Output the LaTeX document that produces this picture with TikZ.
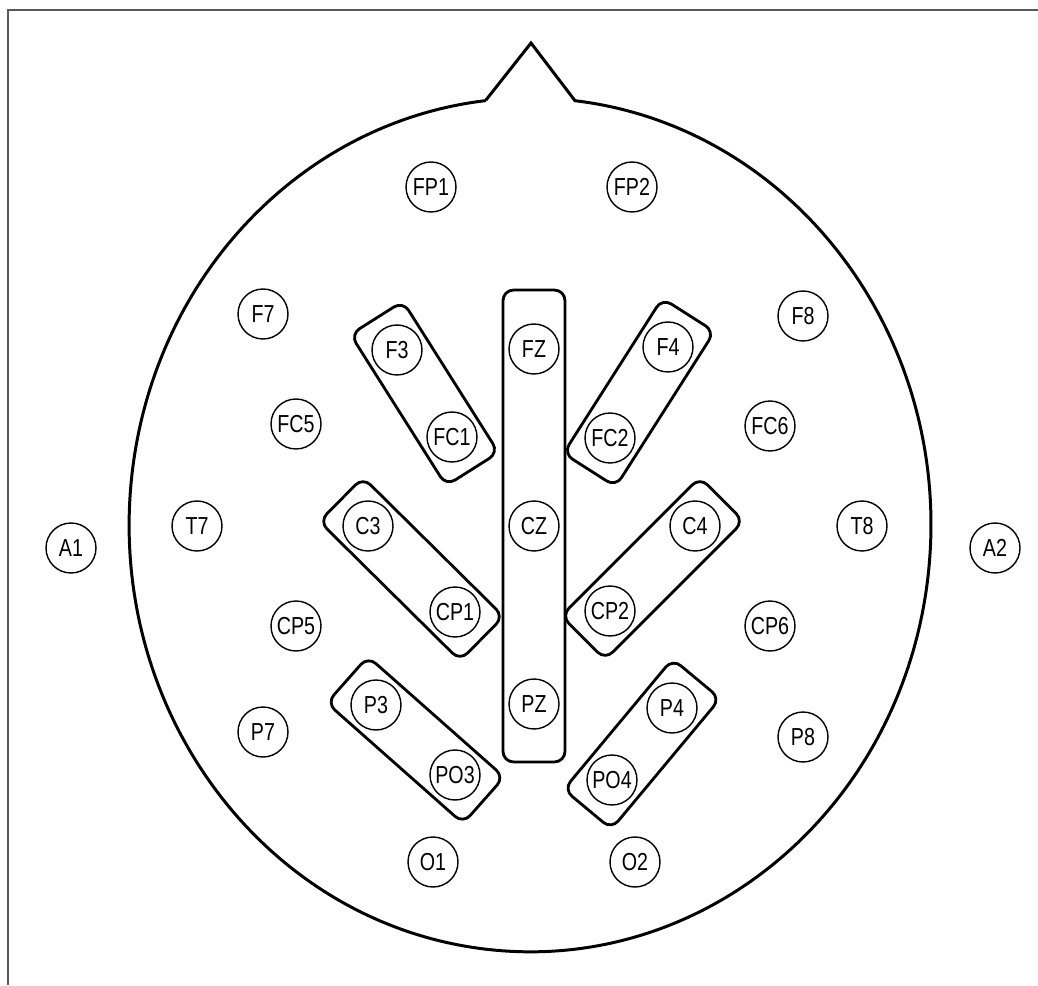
\documentclass[tikz,border=0pt]{standalone}
\usepackage{fontspec}
\setmainfont{Liberation Sans}[FakeStretch=0.8]
\usepackage{tikz}
\usetikzlibrary{calc}

\begin{document}
\begin{tikzpicture}[
  x=0.02cm, y=0.02cm,
  elec/.style={draw, circle, minimum size=1cm, inner sep=0pt, line width=0.8pt,
    font=\fontsize{14}{15}\selectfont},
  pairbox/.style={draw, rounded corners=6pt, line width=1.6pt, minimum height=1.24cm},
  head/.style={line width=1.7pt, line join=miter},
  frameline/.style={draw=black!65, line width=1.2pt},
]
\useasboundingbox (0,0) rectangle (1038,985);

% Frame
\draw[frameline] (1038,975) -- (8,975) -- (8,0);

% Head and nose
\coordinate (noseL) at (486,885);
\coordinate (noseT) at (531,942);
\coordinate (noseR) at (575,884.3);
\draw[head] (noseL) -- (noseT) -- (noseR)
  arc[start angle=83.56, end angle=-263.7, x radius=8.02cm, y radius=8.54cm];

% Frontal
\node[elec] (FP1) at (431,798) {FP1};
\node[elec] (FP2) at (632,798) {FP2};
\node[elec] (F7) at (263,671) {F7};
\node[elec] (F3) at (397,635) {F3};
\node[elec] (FZ) at (534,636) {FZ};
\node[elec] (F4) at (668,638) {F4};
\node[elec] (F8) at (803,669) {F8};
\node[elec] (FC5) at (296,561) {FC5};
\node[elec] (FC1) at (452,548) {FC1};
\node[elec] (FC2) at (610,547) {FC2};
\node[elec] (FC6) at (770,559) {FC6};

% Central
\node[elec] (A1) at (71,437) {A1};
\node[elec] (T7) at (197,459) {T7};
\node[elec] (C3) at (368,459) {C3};
\node[elec] (CZ) at (534,459) {CZ};
\node[elec] (C4) at (695,459) {C4};
\node[elec] (T8) at (862,459) {T8};
\node[elec] (A2) at (995,437) {A2};
\node[elec] (CP5) at (296,359) {CP5};
\node[elec] (CP1) at (455,373) {CP1};
\node[elec] (CP2) at (610,374) {CP2};
\node[elec] (CP6) at (770,359) {CP6};

% Parietal / occipital
\node[elec] (P7) at (263,253) {P7};
\node[elec] (P3) at (376,280) {P3};
\node[elec] (PZ) at (534,281) {PZ};
\node[elec] (P4) at (672,277) {P4};
\node[elec] (P8) at (803,248) {P8};
\node[elec] (PO3) at (455,210) {PO3};
\node[elec] (PO4) at (612,205) {PO4};
\node[elec] (O1) at (433,123) {O1};
\node[elec] (O2) at (635,123) {O2};

% Electrode pairs
\node[pairbox, minimum width=1.24cm, minimum height=9.44cm] (midline) at (534,459) {};
\node[pairbox, rotate=-57.7, minimum width=3.58cm] (leftF) at ($(F3)!0.5!(FC1)$) {};
\node[pairbox, rotate=57.5, minimum width=3.68cm] (rightF) at ($(FC2)!0.5!(F4)$) {};
\node[pairbox, rotate=-44.7, minimum width=3.96cm] (leftC) at ($(C3)!0.5!(CP1)$) {};
\node[pairbox, rotate=45, minimum width=3.92cm] (rightC) at ($(CP2)!0.5!(C4)$) {};
\node[pairbox, rotate=-41.5, minimum width=3.64cm] (leftP) at ($(P3)!0.5!(PO3)$) {};
\node[pairbox, rotate=50.2, minimum width=3.40cm] (rightP) at ($(PO4)!0.5!(P4)$) {};
\end{tikzpicture}
\end{document}
